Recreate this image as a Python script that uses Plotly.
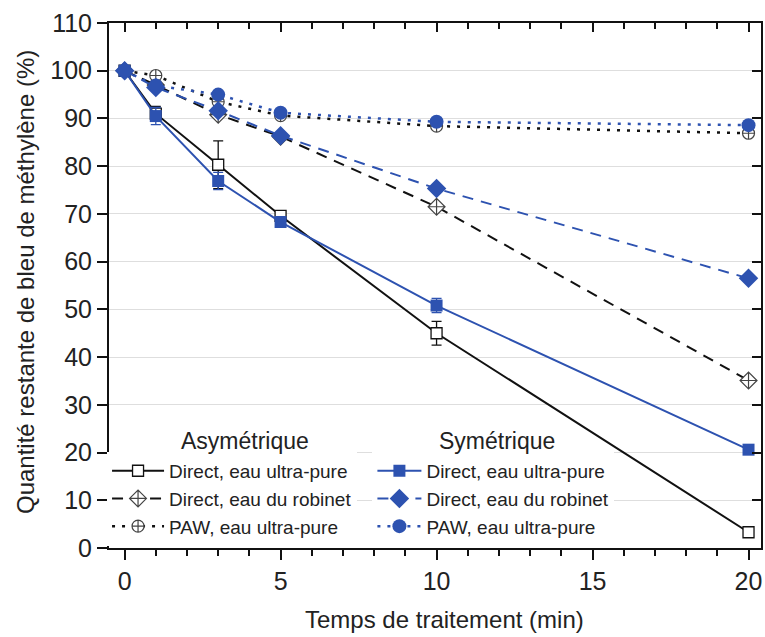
import plotly.graph_objects as go

time = [0, 1, 3, 5, 10, 20]

asym_direct_up = [100, 91.0, 80.3, 69.6, 45.0, 3.3]
asym_direct_up_err = [0, 1.5, 5.0, 0.8, 2.5, 0.5]
asym_direct_tap = [100, 97.0, 90.8, 86.2, 71.5, 35.1]
asym_paw_up = [100, 99.0, 93.5, 90.6, 88.4, 86.9]

sym_direct_up = [100, 90.5, 76.9, 68.3, 50.8, 20.6]
sym_direct_up_err = [0, 1.8, 1.8, 0.8, 1.5, 0.5]
sym_direct_tap = [100, 96.5, 91.6, 86.4, 75.3, 56.5]
sym_paw_up = [100, 96.9, 95.0, 91.2, 89.3, 88.6]

labels = ["Direct, eau ultra-pure", "Direct, eau du robinet", "PAW, eau ultra-pure"]
header_asym = "Asymétrique"
header_sym = "Symétrique"
x_title = "Temps de traitement (min)"
y_title = "Quantité restante de bleu de méthylène (%)"

BLUE = "#2d52b0"
BLACK = "#111111"
FONT = "Liberation Sans, Arial, sans-serif"

fig = go.Figure()

# Asymmetric (black, open markers)
fig.add_trace(go.Scatter(x=time, y=asym_direct_up, name=labels[0], legend="legend",
    mode="lines+markers", line=dict(color=BLACK, width=2),
    marker=dict(symbol="square", size=11, color="white", line=dict(color=BLACK, width=1.3)),
    error_y=dict(type="data", array=asym_direct_up_err, color=BLACK, thickness=1.3, width=5)))
fig.add_trace(go.Scatter(x=time, y=asym_direct_tap, name=labels[1], legend="legend",
    mode="lines+markers", line=dict(color=BLACK, width=2, dash="11px,8px"),
    marker=dict(symbol="diamond-cross", size=13, color="white", line=dict(color="#444", width=1.2))))
fig.add_trace(go.Scatter(x=time, y=asym_paw_up, name=labels[2], legend="legend",
    mode="lines+markers", line=dict(color=BLACK, width=2.5, dash="3px,7px"),
    marker=dict(symbol="circle-cross", size=12, color="white", line=dict(color="#444", width=1.2))))

# Symmetric (blue, filled markers)
fig.add_trace(go.Scatter(x=time, y=sym_direct_up, name=labels[0], legend="legend2",
    mode="lines+markers", line=dict(color=BLUE, width=2),
    marker=dict(symbol="square", size=12, color=BLUE),
    error_y=dict(type="data", array=sym_direct_up_err, color=BLUE, thickness=1.3, width=5)))
fig.add_trace(go.Scatter(x=time, y=sym_direct_tap, name=labels[1], legend="legend2",
    mode="lines+markers", line=dict(color=BLUE, width=2, dash="11px,8px"),
    marker=dict(symbol="diamond", size=15, color=BLUE)))
fig.add_trace(go.Scatter(x=time, y=sym_paw_up, name=labels[2], legend="legend2",
    mode="lines+markers", line=dict(color=BLUE, width=2.5, dash="3px,7px"),
    marker=dict(symbol="circle", size=14, color=BLUE)))

# top/right mirror axes with inside ticks
fig.add_trace(go.Scatter(x=[None], y=[None], xaxis="x2", yaxis="y2", showlegend=False))

axis_font = dict(family=FONT, size=25, color="#222")

fig.update_layout(
    width=765, height=637,
    margin=dict(l=109, r=4, t=23, b=89),
    paper_bgcolor="white", plot_bgcolor="white",
    font=dict(family=FONT, color="#222"),
    xaxis=dict(range=[-0.5, 20.4], tickvals=[0, 5, 10, 15, 20], ticks="outside", ticklen=10,
               tickwidth=2, tickcolor=BLACK, showline=True, linecolor=BLACK, linewidth=2,
               showgrid=False, zeroline=False, tickfont=axis_font, automargin=False,
               minor=dict(tickvals=list(range(0, 21)), ticks="outside", ticklen=6, tickwidth=1.5,
                          tickcolor=BLACK, showgrid=False)),
    yaxis=dict(range=[0, 110], dtick=10, ticks="outside", ticklen=10, tickwidth=2, tickcolor=BLACK,
               showline=True, linecolor=BLACK, linewidth=2, showgrid=True, gridcolor="#dedede",
               gridwidth=1.3, zeroline=False, tickfont=axis_font, automargin=False),
    xaxis2=dict(overlaying="x", side="top", range=[-0.5, 20.4], tickvals=[0, 5, 10, 15, 20],
                ticks="inside", ticklen=9, tickwidth=2, tickcolor=BLACK, showticklabels=False,
                showline=True, linecolor=BLACK, linewidth=2, showgrid=False, zeroline=False,
                automargin=False,
                minor=dict(tickvals=list(range(0, 21)), ticks="inside", ticklen=6, tickwidth=1.5,
                           tickcolor=BLACK, showgrid=False)),
    yaxis2=dict(overlaying="y", side="right", range=[0, 110], dtick=10, ticks="inside", ticklen=9,
                tickwidth=2, tickcolor=BLACK, showticklabels=False, showline=True, linecolor=BLACK,
                linewidth=2, showgrid=False, zeroline=False, automargin=False),
    legend=dict(x=-0.003, xanchor="left", y=0.004, yanchor="bottom", bgcolor="rgba(255,255,255,1)",
                font=dict(family=FONT, size=19, color="#222"), itemwidth=52, tracegroupgap=0,
                borderwidth=0),
    legend2=dict(x=0.404, xanchor="left", y=0.004, yanchor="bottom", bgcolor="rgba(255,255,255,1)",
                 font=dict(family=FONT, size=19, color="#222"), itemwidth=44, tracegroupgap=0,
                 borderwidth=0),
    annotations=[
        dict(text=header_asym, x=0.209, y=0.204, xref="paper", yref="paper", showarrow=False,
             xanchor="center", yanchor="middle",
             font=dict(family=FONT, size=23, color="#222"), bgcolor="white"),
        dict(text=header_sym, x=0.595, y=0.204, xref="paper", yref="paper", showarrow=False,
             xanchor="center", yanchor="middle",
             font=dict(family=FONT, size=23, color="#222"), bgcolor="white"),
        dict(text=x_title, x=0.514, y=-0.137, xref="paper", yref="paper", showarrow=False,
             xanchor="center", yanchor="middle",
             font=dict(family=FONT, size=24, color="#222")),
        dict(text=y_title, x=-0.127, y=0.507, xref="paper", yref="paper", showarrow=False,
             xanchor="center", yanchor="middle",
             textangle=-90, font=dict(family=FONT, size=24, color="#222")),
    ],
)

fig.write_html("out.html", config={"displayModeBar": False},
               post_script="document.body.style.margin='0';document.body.style.padding='0';")
